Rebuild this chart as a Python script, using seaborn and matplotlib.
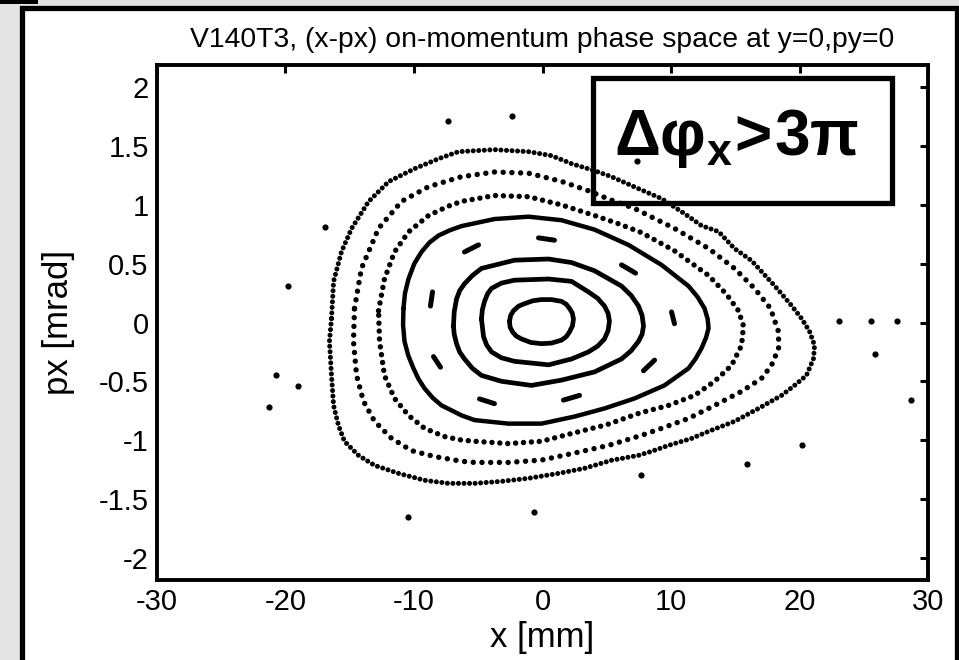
import numpy as np
import pandas as pd
import matplotlib
matplotlib.use('Agg')
import matplotlib.pyplot as plt
from matplotlib.patches import Rectangle
import seaborn as sns

# ---------------------------------------------------------------------------
# Tracked orbits (x in mm, px in mrad)
# ---------------------------------------------------------------------------
ring1_x = [-2.57, -2.48, -2.26, -1.85, -1.40, -0.75, -0.08, 0.70, 1.48, 1.85, 2.10, 2.32,
           2.41, 2.33, 2.10, 1.85, 1.48, 0.70, -0.08, -0.90, -1.63, -2.05, -2.33, -2.52]
ring1_y = [0.01, 0.06, 0.10, 0.14, 0.16, 0.185, 0.195, 0.195, 0.18, 0.155, 0.12, 0.08,
           0.03, -0.03, -0.08, -0.12, -0.15, -0.175, -0.18, -0.17, -0.14, -0.115, -0.08,
           -0.04]

ring2_x = [-4.75, -4.68, -4.51, -4.27, -3.97, -3.20, -2.18, 0.47, 2.26, 3.58, 4.30, 4.82,
           5.10, 5.21, 5.10, 4.82, 4.30, 3.58, 2.26, 0.47, -2.18, -3.20, -3.97, -4.35,
           -4.59]
ring2_y = [0.03, 0.11, 0.18, 0.245, 0.29, 0.335, 0.36, 0.37, 0.35, 0.26, 0.205, 0.14,
           0.08, 0.01, -0.07, -0.14, -0.20, -0.25, -0.31, -0.36, -0.33, -0.30, -0.25,
           -0.19, -0.12]

ring3_x = [-6.93, -6.87, -6.69, -6.45, -6.07, -5.45, -4.75, -2.18, 0.47, 2.26, 4.05, 6.15,
           6.90, 7.47, 7.75, 7.86, 7.75, 7.47, 6.90, 6.15, 4.05, 1.48, -0.86, -3.19,
           -4.75, -5.45, -6.07, -6.45, -6.69, -6.87]
ring3_y = [-0.03, 0.09, 0.20, 0.27, 0.33, 0.40, 0.46, 0.53, 0.54, 0.51, 0.44, 0.31, 0.23,
           0.14, 0.06, -0.03, -0.10, -0.16, -0.24, -0.31, -0.42, -0.49, -0.535, -0.50,
           -0.45, -0.39, -0.31, -0.25, -0.18, -0.10]

ring4_x = [-10.82, -10.70, -10.43, -9.98, -9.42, -8.80, -8.09, -7.20, -6.30, -3.74, -1.09,
           1.48, 4.05, 6.69, 9.26, 11.36, 12.05, 12.61, 12.85, 12.92, 12.72, 12.37, 11.90,
           11.36, 9.49, 7.16, 4.82, 2.49, -0.08, -2.65, -5.29, -6.30, -7.86, -8.55, -9.18,
           -9.65, -10.04, -10.45, -10.74, -10.85]
ring4_y = [0.12, 0.25, 0.37, 0.50, 0.60, 0.68, 0.74, 0.785, 0.82, 0.88, 0.90, 0.87, 0.79,
           0.66, 0.49, 0.31, 0.22, 0.12, 0.03, -0.05, -0.13, -0.22, -0.31, -0.39, -0.535,
           -0.646, -0.731, -0.80, -0.86, -0.86, -0.83, -0.79, -0.705, -0.64, -0.56, -0.48,
           -0.39, -0.28, -0.16, -0.02]

ring5_x = [-12.76, -12.30, -11.52, -10.43, -8.87, -7.32, -6.30, -3.74, -1.09, 1.48, 4.05,
           5.91, 7.70, 10.27, 12.92, 14.32, 15.25, 15.64, 15.49, 14.71, 13.39, 11.83,
           9.81, 7.55, 4.98, 2.41, -0.08, -2.65, -5.29, -6.30, -7.63, -9.18, -10.43,
           -11.52, -12.30, -12.68]
ring5_y = [0.10, 0.37, 0.60, 0.77, 0.91, 0.99, 1.03, 1.08, 1.07, 1.00, 0.91, 0.84, 0.765,
           0.61, 0.40, 0.24, 0.10, -0.03, -0.195, -0.365, -0.50, -0.62, -0.705, -0.77,
           -0.87, -0.94, -1.01, -1.03, -1.01, -1.00, -0.97, -0.90, -0.79, -0.645, -0.45,
           -0.16]

ring6_x = [-14.63, -14.09, -12.76, -10.97, -8.87, -6.30, -3.74, -1.09, 1.48, 3.58, 5.14,
           7.16, 10.27, 12.92, 14.94, 16.50, 17.74, 18.37, 18.37, 17.82, 17.04, 15.49,
           13.39, 11.36, 9.26, 7.70, 5.14, 2.49, -0.08, -2.65, -5.29, -6.30, -8.40,
           -10.19, -11.75, -13.07, -13.93, -14.47, -14.71]
ring6_y = [0.12, 0.46, 0.80, 1.03, 1.155, 1.24, 1.28, 1.27, 1.20, 1.12, 1.05, 0.97, 0.80,
           0.63, 0.46, 0.29, 0.12, -0.08, -0.22, -0.365, -0.476, -0.586, -0.705, -0.816,
           -0.90, -0.96, -1.045, -1.11, -1.17, -1.19, -1.19, -1.18, -1.14, -1.09, -0.985,
           -0.84, -0.67, -0.45, -0.16]

# outermost, chaotic-looking orbit
ring7_x = [-16.42, -16.26, -15.64, -14.86, -13.54, -11.98, -9.96, -8.09, -6.54, -3.74,
           -1.09, 0.70, 2.26, 4.05, 5.37, 7.47, 9.26, 11.05, 12.37, 13.70, 14.94, 16.26,
           18.05, 19.38, 20.16, 20.78, 21.17, 21.09, 20.54, 19.61, 18.60, 16.81, 14.94,
           12.92, 11.60, 9.81, 8.48, 7.47, 5.37, 3.27, 1.25, -1.09, -3.19, -5.29, -7.32,
           -9.18, -11.21, -13.07, -14.32, -15.41, -15.88, -16.26, -16.42, -16.58]
ring7_y = [0.034, 0.348, 0.603, 0.799, 1.028, 1.198, 1.308, 1.393, 1.453, 1.470, 1.453,
           1.419, 1.351, 1.291, 1.240, 1.138, 1.054, 0.926, 0.824, 0.773, 0.629, 0.527,
           0.314, 0.144, 0.034, -0.076, -0.195, -0.306, -0.450, -0.535, -0.620, -0.731,
           -0.841, -0.926, -0.986, -1.045, -1.096, -1.130, -1.172, -1.240, -1.283, -1.325,
           -1.351, -1.368, -1.368, -1.342, -1.283, -1.215, -1.130, -1.011, -0.875, -0.705,
           -0.450, -0.161]

# 9-island resonance chain (each island a short arc: start -> end)
island_x0 = [-6.07, -0.31, 6.15, 10.04, 7.86, 1.63, -4.90, -8.48, -8.56]
island_y0 = [0.60, 0.72, 0.49, 0.09, -0.41, -0.66, -0.65, -0.29, 0.26]
island_x1 = [-4.98, 0.93, 7.24, 10.27, 8.72, 2.88, -3.74, -7.94, -8.72]
island_y1 = [0.66, 0.70, 0.42, -0.01, -0.32, -0.62, -0.69, -0.38, 0.14]

# lost / stray particles
stray_x = [-7.39, -16.96, -19.84, -2.41, 7.32, 23.11, 25.6, 27.55, -20.7, -18.99, -21.32,
           -10.43, 25.84, 28.64, 20.16, 15.95, 7.70, -0.70]
stray_y = [1.716, 0.816, 0.314, 1.76, 1.37, 0.01, 0.01, 0.01, -0.45, -0.544, -0.72,
           -1.65, -0.27, -0.66, -1.045, -1.20, -1.30, -1.61]

x_ticks = [-30, -20, -10, 0, 10, 20, 30]
y_ticks = [-2, -1.5, -1, -0.5, 0, 0.5, 1, 1.5, 2]
y_ticklabels = ['-2', '-1.5', '-1', '-0.5', '0', '0.5', '1', '1.5', '2']

title = 'V140T3, (x-px) on-momentum phase space at y=0,py=0'
badge = r'$\mathbf{Δφ_x}$' + r'$\mathbf{\!>\!3π}$'

# ---------------------------------------------------------------------------
sns.set_style('white')
plt.rcParams['font.family'] = ['Liberation Sans', 'DejaVu Sans']
plt.rcParams['axes.unicode_minus'] = False
plt.rcParams['mathtext.fontset'] = 'custom'
plt.rcParams['mathtext.bf'] = 'Liberation Sans:bold'
plt.rcParams['mathtext.rm'] = 'Liberation Sans'
plt.rcParams['text.color'] = 'black'
plt.rcParams['axes.labelcolor'] = 'black'

fig = plt.figure(figsize=(9.59, 6.60), dpi=100, facecolor='#e4e4e4')
# slide frame behind the chart
fig.patches.append(Rectangle((22 / 959, -0.1), 935 / 959, 1.1 - 8 / 660,
                             transform=fig.transFigure, facecolor='white',
                             edgecolor='black', lw=3.8, zorder=-5))
fig.patches.append(Rectangle((0, 1 - 4 / 660), 38 / 959, 4 / 660,
                             transform=fig.transFigure, facecolor='black',
                             edgecolor='none', zorder=-4))

ax = fig.add_axes([0.1637, 0.1212, 0.804, 0.7803])
ax.set_facecolor('none')


def draw_orbit(xs, ys, lw, gap=None):
    df = pd.DataFrame({'x': list(xs) + [xs[0]], 'y': list(ys) + [ys[0]]})
    sns.lineplot(data=df, x='x', y='y', sort=False, estimator=None, color='black',
                 lw=lw, ax=ax)
    line = ax.lines[-1]
    line.set_solid_capstyle('round')
    line.set_dash_capstyle('round')
    line.set_solid_joinstyle('round')
    if gap is not None:
        line.set_linestyle((0, (0.01, gap)))


draw_orbit(ring1_x, ring1_y, 3.4)
draw_orbit(ring2_x, ring2_y, 3.4)
draw_orbit(ring3_x, ring3_y, 3.4)
draw_orbit(ring4_x, ring4_y, 3.2)
draw_orbit(ring5_x, ring5_y, 3.9, gap=1.45)
draw_orbit(ring6_x, ring6_y, 3.9, gap=1.6)
draw_orbit(ring7_x, ring7_y, 3.6, gap=1.1)

isl = pd.DataFrame({
    'x': island_x0 + island_x1,
    'y': island_y0 + island_y1,
    'island': list(range(len(island_x0))) * 2,
})
sns.lineplot(data=isl, x='x', y='y', units='island', estimator=None, sort=False,
             color='black', lw=3.6, solid_capstyle='round', ax=ax)

sns.scatterplot(x=stray_x, y=stray_y, color='black', s=20, linewidth=0, ax=ax)

ax.set_xlim(-30, 30)
ax.set_ylim(-2.19, 2.19)
ax.set_xticks(x_ticks)
ax.set_xticklabels([str(t) for t in x_ticks])
ax.set_yticks(y_ticks)
ax.set_yticklabels(y_ticklabels)
ax.tick_params(direction='in', length=6, width=2.2, top=True, right=True,
               labelsize=21, pad=6, colors='black')
for sp in ax.spines.values():
    sp.set_linewidth(2.8)
    sp.set_color('black')

ax.set_xlabel('x [mm]', fontsize=25, labelpad=3)
ax.set_ylabel('px [mrad]', fontsize=25, labelpad=17)
ax.set_title(title, fontsize=20.4, pad=13)

ax.add_patch(Rectangle((0.5655, 0.732), 0.3875, 0.243, transform=ax.transAxes,
                       facecolor='none', edgecolor='black', lw=3.8, zorder=5))
ax.text(0.752, 0.825, badge, transform=ax.transAxes, ha='center', va='baseline',
        fontsize=46, zorder=6)

fig.savefig('out.png', dpi=100, facecolor=fig.get_facecolor())
